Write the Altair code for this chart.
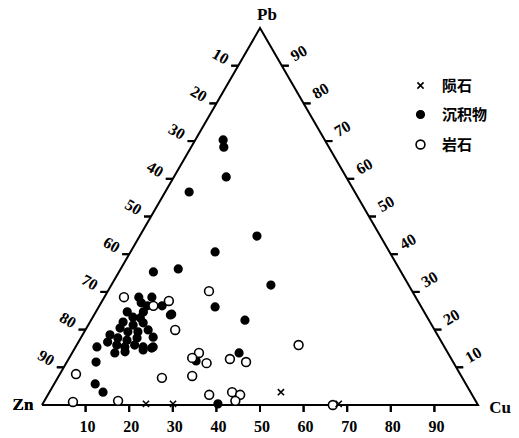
import altair as alt
import pandas as pd

# ---- data (ternary percentages, Zn = 100 - Pb - Cu) ----
types = ["陨石", "沉积物", "岩石"]

sed_pb = [70.3, 68.4, 60.5, 56.5, 44.8, 40.6, 36.1, 35.3, 31.8, 22.5, 26.0, 13.8, 0.3,
          24.1, 15.4, 11.4, 5.6, 3.4, 11.7,
          28.6, 28.6, 27.1, 26.3, 26.3, 24.7, 23.9, 24.7, 23.3, 23.1, 22.0, 21.2, 21.8,
          20.4, 19.4, 19.4, 19.9, 18.6, 17.8, 17.2, 17.8, 18.0, 16.7, 15.9, 15.4, 15.9,
          15.4, 15.4, 13.8, 14.1, 14.6, 15.1]
sed_cu = [6.4, 7.5, 12.0, 5.5, 26.9, 19.4, 13.2, 7.9, 36.6, 35.3, 26.7, 38.3, 40.2,
          17.7, 4.9, 6.7, 9.4, 12.3, 29.5,
          7.9, 10.9, 9.2, 11.0, 14.4, 10.9, 17.5, 7.2, 9.2, 11.0, 7.6, 10.3, 12.3,
          7.7, 10.0, 12.3, 14.4, 6.3, 8.5, 10.9, 12.9, 16.5, 6.7, 9.2, 11.3, 13.3,
          15.5, 17.8, 9.8, 12.0, 15.9, 17.6]

rock_pb = [28.6, 27.6, 26.3, 19.9, 30.2, 8.2, 7.2, 0.8, 1.1, 13.8, 12.5, 11.1, 12.2,
           11.4, 7.7, 2.7, 3.4, 2.7, 1.1, 15.9, 0.0]
rock_cu = [4.5, 15.3, 12.4, 20.6, 23.2, 3.7, 23.9, 6.7, 16.9, 29.1, 28.2, 32.2, 37.0,
           41.1, 30.6, 37.0, 41.9, 44.1, 43.8, 50.9, 66.7]

met_pb = [0.3, 0.3, 3.4, 0.3]
met_cu = [23.7, 29.9, 53.1, 67.9]

tick_values = [10, 20, 30, 40, 50, 60, 70, 80, 90]
corner_names = ["Zn", "Cu", "Pb", "Zn"]
corner_pb = [0, 0, 100, 0]
corner_cu = [0, 100, 0, 0]

# ---- tables ----
rows = []
for pb, cu in zip(sed_pb, sed_cu):
    rows.append({"Pb": pb, "Cu": cu, "type": "沉积物", "z": 1})
for pb, cu in zip(rock_pb, rock_cu):
    rows.append({"Pb": pb, "Cu": cu, "type": "岩石", "z": 2})
for pb, cu in zip(met_pb, met_cu):
    rows.append({"Pb": pb, "Cu": cu, "type": "陨石", "z": 3})
pts = pd.DataFrame(rows)

corners = pd.DataFrame({"name": corner_names, "Pb": corner_pb, "Cu": corner_cu,
                        "i": list(range(len(corner_names)))})
ticks = pd.DataFrame({"t": tick_values})

R3 = 0.8660254
W, H = 436, 377
xs = alt.Scale(domain=[0, 100], nice=False, zero=False)
ys = alt.Scale(domain=[0, 100 * R3], nice=False, zero=False)


def X(f):
    return alt.X(f, type="quantitative", scale=xs, axis=None)


def Y(f):
    return alt.Y(f, type="quantitative", scale=ys, axis=None)


NUMFONT = "Liberation Serif"
tern = "datum.Cu + datum.Pb / 2"
ternY = "datum.Pb * 0.8660254"

triangle = alt.Chart(corners).transform_calculate(px=tern, py=ternY).mark_line(
    color="black", strokeWidth=2, strokeJoin="miter"
).encode(x=X("px"), y=Y("py"), order="i:Q")

# edge positions of the tick values
BOTTOM = ("datum.t", "0")
LEFT = ("(100 - datum.t) / 2", "(100 - datum.t) * 0.8660254")
RIGHT = ("100 - datum.t / 2", "datum.t * 0.8660254")


def tick_layer(pos, orient, xoff, yoff):
    return alt.Chart(ticks).transform_calculate(
        px=pos[0], py=pos[1]
    ).mark_tick(orient=orient, size=7, thickness=2, color="black",
                opacity=1, xOffset=xoff, yOffset=yoff).encode(
        x=X("px"), y=Y("py"))


def rule_layer(pos, ex, ey):
    return alt.Chart(ticks).transform_calculate(
        px=pos[0], py=pos[1], qx=pos[0] + " + " + ex, qy=pos[1] + " + " + ey
    ).mark_rule(color="black", strokeWidth=2).encode(
        x=X("px"), y=Y("py"), x2=alt.X2(field="qx"), y2=alt.Y2(field="qy"))


bottom_ticks = tick_layer(BOTTOM, "vertical", 0, 3.5)
left_ticks = tick_layer(LEFT, "horizontal", -3.5, 0)
right_ticks = tick_layer(RIGHT, "horizontal", 3.5, 0)
bottom_rules = rule_layer(BOTTOM, "0", "-1.6")
left_rules = rule_layer(LEFT, "-1.6", "0")
right_rules = rule_layer(RIGHT, "1.6", "0")


def label_layer(pos, dx, dy, angle):
    return alt.Chart(ticks).transform_calculate(
        px=pos[0], py=pos[1], lab="'' + datum.t"
    ).mark_text(font=NUMFONT, fontWeight="bold", fontSize=16, dx=dx, dy=dy,
                angle=angle, baseline="middle", align="center", color="black"
                ).encode(x=X("px"), y=Y("py"), text="lab:N")


bottom_labels = label_layer(BOTTOM, 2, 22, 0)
left_labels = label_layer(LEFT, -20, 1, 30)
right_labels = label_layer(RIGHT, 21, -2, 330)


def corner_label(name, dx, dy):
    return alt.Chart(corners).transform_filter(
        alt.datum.name == name
    ).transform_calculate(px=tern, py=ternY).mark_text(
        font=NUMFONT, fontWeight="bold", fontSize=17, dx=dx, dy=dy,
        baseline="middle", align="center", color="black"
    ).encode(x=X("px"), y=Y("py"), text="name:N")


pb_lab = corner_label("Pb", 7, -13)
zn_lab = corner_label("Zn", -19, 0)
cu_lab = corner_label("Cu", 22, 3)

cross_path = "M-1,-1L1,1M-1,1L1,-1"
points = alt.Chart(pts).transform_calculate(px=tern, py=ternY).mark_point(
    filled=True, strokeWidth=1.6, opacity=1
).encode(
    x=X("px"), y=Y("py"),
    shape=alt.Shape("type:N", scale=alt.Scale(domain=types,
                    range=[cross_path, "circle", "circle"]),
                    legend=alt.Legend(title=None)),
    fill=alt.Fill("type:N", scale=alt.Scale(domain=types,
                  range=["black", "black", "white"]),
                  legend=alt.Legend(title=None)),
    stroke=alt.Stroke("type:N", scale=alt.Scale(domain=types,
                      range=["black", "black", "black"]),
                      legend=alt.Legend(title=None)),
    size=alt.Size("type:N", scale=alt.Scale(domain=types, range=[38, 78, 58]),
                  legend=alt.Legend(title=None)),
    order="z:Q",
)

chart = alt.layer(
    triangle, bottom_ticks, left_ticks, right_ticks,
    bottom_rules, left_rules, right_rules,
    bottom_labels, left_labels, right_labels,
    pb_lab, zn_lab, cu_lab, points
).properties(
    width=W, height=H,
    autosize="none",
    padding={"left": 42, "top": 28, "right": 41, "bottom": 33},
    background="white",
).configure_view(stroke=None).configure_legend(
    orient="none", legendX=371, legendY=50,
    labelFont="Noto Sans CJK SC", labelFontSize=15, labelFontWeight="bold",
    labelColor="black", labelOffset=14, rowPadding=13,
    symbolStrokeWidth=1.6, padding=0,
)

chart.save("out.html", embed_options={"renderer": "svg", "actions": False})
